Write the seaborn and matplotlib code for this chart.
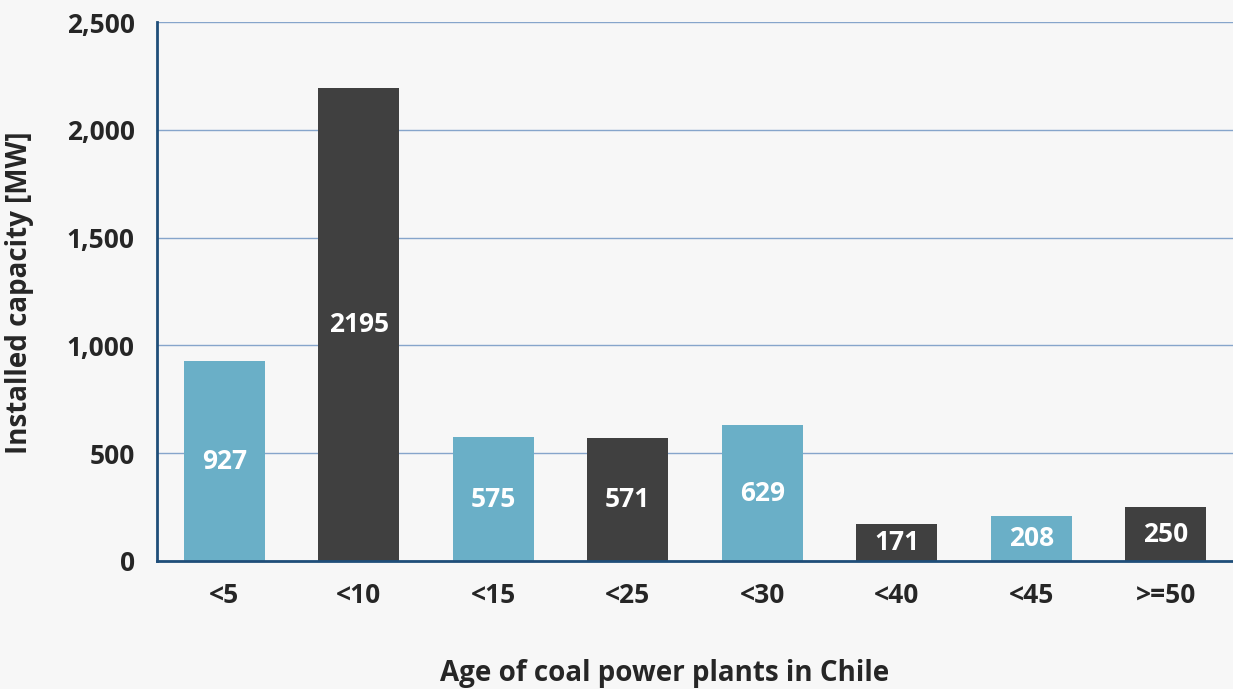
import matplotlib
matplotlib.use("Agg")
import matplotlib.pyplot as plt
import pandas as pd
import seaborn as sns

# data
ages = ["<5", "<10", "<15", "<25", "<30", "<40", "<45", ">=50"]
capacity = [927, 2195, 575, 571, 629, 171, 208, 250]
bar_colors = ["#6aafc7", "#404040", "#6aafc7", "#404040",
              "#6aafc7", "#404040", "#6aafc7", "#404040"]

sns.set_style("white")
plt.rcParams['font.family'] = ['Open Sans', 'DejaVu Sans']

df = pd.DataFrame({"age": ages, "mw": capacity})

fig = plt.figure(figsize=(12.33, 6.89), dpi=100, facecolor="#f7f7f7")
ax = fig.add_axes([0.1273, 0.1858, 0.8727, 0.7822])
ax.set_facecolor("#f7f7f7")

sns.barplot(data=df, x="age", y="mw", hue="age", palette=bar_colors,
            legend=False, width=0.6, saturation=1, linewidth=0,
            ax=ax, zorder=3)

# value labels inside the bars
for cont in ax.containers:
    ax.bar_label(cont, label_type="center", color="white",
                 fontsize=19, fontweight="bold")

ax.set_ylim(0, 2500)
ax.set_xlim(-0.5, len(ages) - 0.5)
ax.set_yticks(range(0, 2501, 500))
ax.set_yticklabels([f"{v:,}" for v in range(0, 2501, 500)])
ax.yaxis.grid(True, color="#86a5cb", linewidth=1, zorder=0)

for s in ["top", "right"]:
    ax.spines[s].set_visible(False)
ax.spines["left"].set_color("#1f4e79")
ax.spines["left"].set_linewidth(2)
ax.spines["bottom"].set_color("#1f4e79")
ax.spines["bottom"].set_linewidth(2)
ax.spines["bottom"].set_zorder(4)

ax.tick_params(axis="both", length=0, labelsize=19)
ax.tick_params(axis="x", pad=15)
ax.tick_params(axis="y", pad=16)
for lab in ax.get_xticklabels() + ax.get_yticklabels():
    lab.set_fontweight("bold")

ax.set_xlabel("Age of coal power plants in Chile", fontsize=20,
              fontweight="bold")
ax.xaxis.set_label_coords(0.472, -0.182)
ax.set_ylabel("Installed capacity [MW]", fontsize=20,
              fontweight="bold")
ax.yaxis.set_label_coords(-0.114, 0.497)

fig.savefig("out.png", dpi=100, facecolor=fig.get_facecolor())
